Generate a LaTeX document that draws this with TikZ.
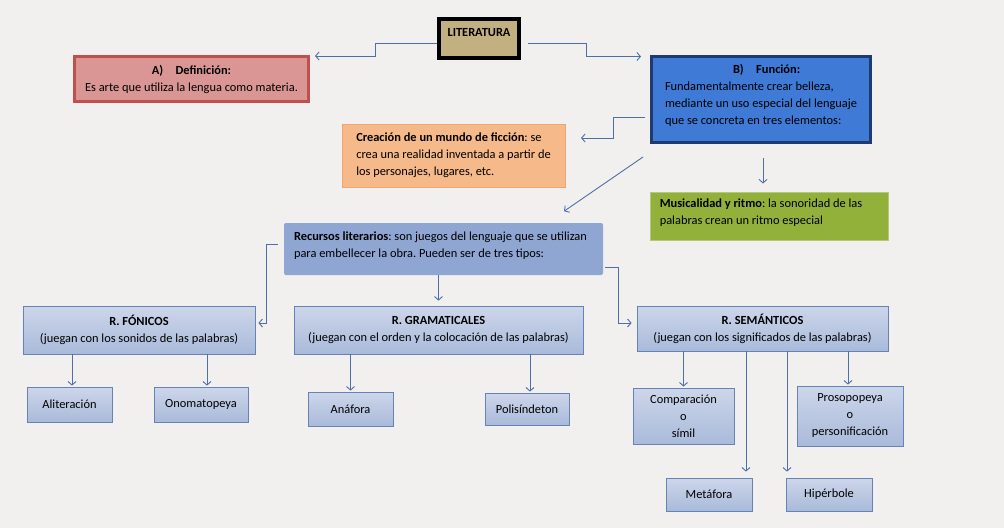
\documentclass[tikz,border=0pt]{standalone}
\usepackage{fontspec}
\setmainfont{Carlito}
\usetikzlibrary{arrows.meta}
\definecolor{bgcol}{HTML}{F1F0EF}
\definecolor{litfill}{HTML}{C3B081}
\definecolor{afill}{HTML}{DA9694}
\definecolor{aline}{HTML}{C0504D}
\definecolor{bfill}{HTML}{3F7AD6}
\definecolor{bline}{HTML}{1F3A6E}
\definecolor{crefill}{HTML}{F6B98A}
\definecolor{creline}{HTML}{F2A46E}
\definecolor{musfill}{HTML}{91B13B}
\definecolor{musline}{HTML}{B3CB78}
\definecolor{recfill}{HTML}{8FA6D3}
\definecolor{rtop}{HTML}{CDD6EA}
\definecolor{rbot}{HTML}{A9BADA}
\definecolor{rline}{HTML}{6683B6}
\definecolor{arrcol}{HTML}{4F6FA8}
\begin{document}
\begin{tikzpicture}[x=1pt,y=-1pt,
    every node/.style={font=\fontsize{12.4}{17}\selectfont\frenchspacing,inner sep=0pt},
    arr/.style={draw=arrcol,line width=0.9pt,shorten >=1pt,-{Straight Barb[length=3.5pt,width=8pt]}},
    litbox/.style={draw=black,line width=4pt,fill=litfill},
    abox/.style={draw=aline,line width=3pt,fill=afill,align=center},
    bbox/.style={draw=bline,line width=3pt,fill=bfill,align=left},
    crebox/.style={draw=creline,line width=1pt,fill=crefill,align=left},
    musbox/.style={draw=musline,line width=1pt,fill=musfill,align=left},
    recbox/.style={fill=recfill,rounded corners=2pt,align=left},
    rbox/.style={draw=rline,line width=0.8pt,top color=rtop,bottom color=rbot,align=center}]
  \fill[bgcol] (0,0) rectangle (1004,528);
  % top level
  \node[litbox,minimum width=80pt,minimum height=39pt,text depth=13pt] (lit) at (479,38.5) {\textbf{LITERATURA}};
  \node[abox,minimum width=234pt,minimum height=45pt] (a) at (191.5,79) {\textbf{A)\quad Definición:}\\Es arte que utiliza la lengua como materia.};
  \node[bbox,minimum width=219pt,minimum height=86pt,text depth=10pt] (b) at (761,99.5) {\hspace*{68pt}\textbf{B)\quad Función:}\\Fundamentalmente crear belleza,\\mediante un uso especial del lenguaje\hspace*{8pt}\\que se concreta en tres elementos:};
  % tres elementos
  \node[crebox,minimum width=223pt,minimum height=63pt] (cre) at (453.5,155.5) {\textbf{Creación de un mundo de ficción}: se\\crea una realidad inventada a partir de\hspace*{8pt}\\los personajes, lugares, etc.};
  \node[musbox,minimum width=238pt,minimum height=48pt,text depth=8pt] (mus) at (769,216) {\textbf{Musicalidad y ritmo}: la sonoridad de las\hspace*{16pt}\\palabras crean un ritmo especial};
  \node[recbox,minimum width=319pt,minimum height=52pt,text depth=9pt] (rec) at (443.5,249) {\textbf{Recursos literarios}: son juegos del lenguaje que se utilizan\hspace*{6pt}\\para embellecer la obra. Pueden ser de tres tipos:};
  % tipos de recursos
  \node[rbox,minimum width=232pt,minimum height=48pt] (fon) at (139,330) {\textbf{R. FÓNICOS}\\(juegan con los sonidos de las palabras)};
  \node[rbox,minimum width=289pt,minimum height=48pt] (gra) at (438.5,330) {\textbf{R. GRAMATICALES}\\(juegan con el orden y la colocación de las palabras)};
  \node[rbox,minimum width=251pt,minimum height=45pt] (sem) at (762.5,328.5) {\textbf{R. SEMÁNTICOS}\\(juegan con los significados de las palabras)};
  % ejemplos
  \node[rbox,minimum width=85pt,minimum height=35pt] (ali) at (69.5,404.5) {Aliteración};
  \node[rbox,minimum width=94pt,minimum height=35pt] (ono) at (201,404.5) {Onomatopeya};
  \node[rbox,minimum width=85pt,minimum height=34pt] (ana) at (350.5,409) {Anáfora};
  \node[rbox,minimum width=84pt,minimum height=32pt] (pol) at (527,409) {Polisíndeton};
  \node[rbox,minimum width=101pt,minimum height=56pt] (com) at (683.5,416) {Comparación\\o\\símil};
  \node[rbox,minimum width=86pt,minimum height=33pt] (met) at (709,494.5) {Metáfora};
  \node[rbox,minimum width=86pt,minimum height=33pt] (hip) at (829,494.5) {Hipérbole};
  \node[rbox,minimum width=106pt,minimum height=60pt] (pro) at (850,416) {Prosopopeya\\o\\personificación};
  % flechas
  \draw[arr] ([yshift=-4.5pt]lit.west) -- ++(-62,0) |- ([xshift=4pt,yshift=-1pt]a.north east);
  \draw[arr] ([xshift=7pt,yshift=-4.5pt]lit.east) -- ++(58,0) |- ([xshift=-8pt,yshift=-1.5pt]b.north west);
  \draw[arr] ([xshift=-5pt,yshift=-17.5pt]b.west) -- ++(-32,0) |- ([xshift=14.5pt,yshift=17.5pt]cre.east);
  \draw[arr] ([xshift=-7pt,yshift=-13pt]b.south west) -- ([xshift=-40pt,yshift=11pt]rec.north east);
  \draw[arr] ([xshift=2pt,yshift=-14pt]b.south) -- ([xshift=-6pt,yshift=7pt]mus.north);
  \draw[arr] ([xshift=-6pt,yshift=5pt]rec.west) -- ++(-11,0) |- ([xshift=2pt,yshift=7pt]fon.east);
  \draw[arr,shorten >=5pt] (rec.south -| gra.north) -- (gra.north);
  \draw[arr] ([xshift=2pt,yshift=-18pt]rec.east) -- ++(13,0) |- ([xshift=-4pt,yshift=5.5pt]sem.west);
  \coordinate (aliin) at ([xshift=2.5pt]ali.north);
  \coordinate (onoin) at ([xshift=6pt]ono.north);
  \coordinate (anain) at (ana.north);
  \coordinate (polin) at ([xshift=3pt]pol.north);
  \coordinate (comin) at (com.north);
  \coordinate (metin) at ([xshift=37pt,yshift=5pt]met.north);
  \coordinate (hipin) at ([xshift=-42pt,yshift=5pt]hip.north);
  \coordinate (proin) at ([xshift=-2pt]pro.north);
  \draw[arr] (fon.south -| aliin) -- (aliin);
  \draw[arr] (fon.south -| onoin) -- (onoin);
  \draw[arr] (gra.south -| anain) -- (anain);
  \draw[arr] (gra.south -| polin) -- (polin);
  \draw[arr] (sem.south -| comin) -- (comin);
  \draw[arr] (sem.south -| metin) -- (metin);
  \draw[arr] (sem.south -| hipin) -- (hipin);
  \draw[arr] (sem.south -| proin) -- (proin);
\end{tikzpicture}
\end{document}
